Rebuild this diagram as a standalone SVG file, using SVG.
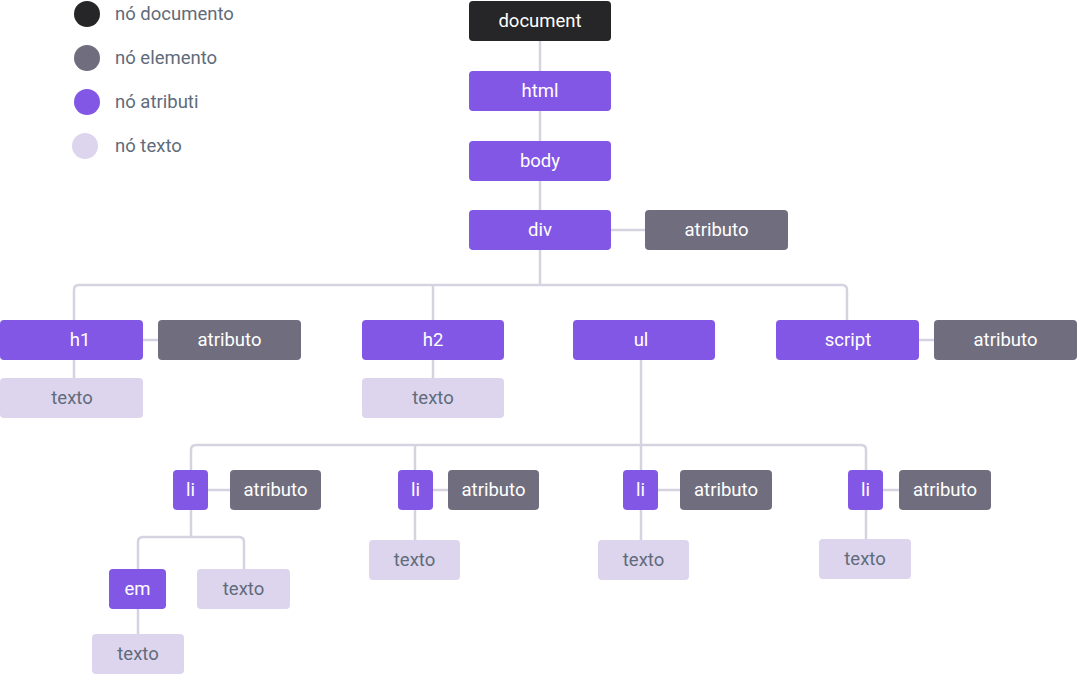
<svg xmlns="http://www.w3.org/2000/svg" width="1079" height="675" viewBox="0 0 1079 675">
  <style>
    text { font-family: Roboto, "Liberation Sans", sans-serif; font-size: 18.5px; dominant-baseline: central; }
    .lbl { text-anchor: middle; fill: #ffffff; }
    .tlbl { text-anchor: middle; fill: #5f6b7a; }
    .leg { fill: #5f6b7a; }
    .doc { fill: #262629; }
    .el { fill: #8257e5; }
    .attr { fill: #706e7e; }
    .txt { fill: #ddd5ee; }
    .conn path { fill: none; stroke: #d6d3e0; stroke-width: 2.5; }
  </style>

  <!-- legend -->
  <g id="legend">
    <circle cx="87" cy="14" r="13" class="doc"/>
    <text x="115" y="14" class="leg">nó documento</text>
    <circle cx="87" cy="58" r="13" class="attr"/>
    <text x="115" y="58" class="leg">nó elemento</text>
    <circle cx="87" cy="102" r="13" class="el"/>
    <text x="115" y="102" class="leg">nó atributi</text>
    <circle cx="85" cy="146" r="13" class="txt"/>
    <text x="115" y="146" class="leg">nó texto</text>
  </g>

  <!-- connectors -->
  <g id="connectors" class="conn">
    <path d="M540 41 V285"/>
    <path d="M611 230 H645"/>
    <path d="M74 340 V290 Q74 285 79 285 H842 Q847 285 847 290 V320"/>
    <path d="M433 285 V378"/>
    <path d="M74 360 V378"/>
    <path d="M143 340 H158"/>
    <path d="M919 340 H934"/>
    <path d="M641 360 V445"/>
    <path d="M191 470 V450 Q191 445 196 445 H861 Q866 445 866 450 V539"/>
    <path d="M415 445 V540"/>
    <path d="M641 445 V540"/>
    <path d="M208 490 H230"/>
    <path d="M433 490 H448"/>
    <path d="M658 490 H680"/>
    <path d="M883 490 H899"/>
    <path d="M191 510 V537"/>
    <path d="M138 569 V542 Q138 537 143 537 H239 Q244 537 244 542 V569"/>
    <path d="M138 609 V634"/>
  </g>

  <g id="n-document"><rect x="469" y="1" width="142" height="40" rx="4" class="doc"/><text x="540" y="21" class="lbl">document</text></g>
  <g id="n-html"><rect x="469" y="71" width="142" height="40" rx="4" class="el"/><text x="540" y="91" class="lbl">html</text></g>
  <g id="n-body"><rect x="469" y="141" width="142" height="40" rx="4" class="el"/><text x="540" y="161" class="lbl">body</text></g>
  <g id="n-div"><rect x="469" y="210" width="142" height="40" rx="4" class="el"/><text x="540" y="230" class="lbl">div</text></g>
  <g id="n-div-attr"><rect x="645" y="210" width="143" height="40" rx="4" class="attr"/><text x="716.5" y="230" class="lbl">atributo</text></g>

  <g id="n-h1"><rect x="0" y="320" width="143" height="40" rx="4" class="el"/><text x="80" y="340" class="lbl">h1</text></g>
  <g id="n-h1-attr"><rect x="158" y="320" width="143" height="40" rx="4" class="attr"/><text x="229.5" y="340" class="lbl">atributo</text></g>
  <g id="n-h1-text"><rect x="0" y="378" width="143" height="40" rx="4" class="txt"/><text x="72" y="398" class="tlbl">texto</text></g>

  <g id="n-h2"><rect x="362" y="320" width="142" height="40" rx="4" class="el"/><text x="433" y="340" class="lbl">h2</text></g>
  <g id="n-h2-text"><rect x="362" y="378" width="142" height="40" rx="4" class="txt"/><text x="433" y="398" class="tlbl">texto</text></g>

  <g id="n-ul"><rect x="573" y="320" width="142" height="40" rx="4" class="el"/><text x="641" y="340" class="lbl">ul</text></g>

  <g id="n-script"><rect x="776" y="320" width="143" height="40" rx="4" class="el"/><text x="848" y="340" class="lbl">script</text></g>
  <g id="n-script-attr"><rect x="934" y="320" width="143" height="40" rx="4" class="attr"/><text x="1005.5" y="340" class="lbl">atributo</text></g>

  <g id="n-li1"><rect x="173" y="470" width="35" height="40" rx="4" class="el"/><text x="190.5" y="490" class="lbl">li</text></g>
  <g id="n-li1-attr"><rect x="230" y="470" width="91" height="40" rx="4" class="attr"/><text x="275.5" y="490" class="lbl">atributo</text></g>
  <g id="n-em"><rect x="109" y="569" width="57" height="40" rx="4" class="el"/><text x="137.5" y="589" class="lbl">em</text></g>
  <g id="n-li1-text"><rect x="197" y="569" width="93" height="40" rx="4" class="txt"/><text x="243.5" y="589" class="tlbl">texto</text></g>
  <g id="n-em-text"><rect x="92" y="634" width="92" height="40" rx="4" class="txt"/><text x="138" y="654" class="tlbl">texto</text></g>

  <g id="n-li2"><rect x="398" y="470" width="35" height="40" rx="4" class="el"/><text x="415.5" y="490" class="lbl">li</text></g>
  <g id="n-li2-attr"><rect x="448" y="470" width="91" height="40" rx="4" class="attr"/><text x="493.5" y="490" class="lbl">atributo</text></g>
  <g id="n-li2-text"><rect x="369" y="540" width="91" height="40" rx="4" class="txt"/><text x="414.5" y="560" class="tlbl">texto</text></g>

  <g id="n-li3"><rect x="623" y="470" width="35" height="40" rx="4" class="el"/><text x="640.5" y="490" class="lbl">li</text></g>
  <g id="n-li3-attr"><rect x="680" y="470" width="92" height="40" rx="4" class="attr"/><text x="726" y="490" class="lbl">atributo</text></g>
  <g id="n-li3-text"><rect x="598" y="540" width="91" height="40" rx="4" class="txt"/><text x="643.5" y="560" class="tlbl">texto</text></g>

  <g id="n-li4"><rect x="848" y="470" width="35" height="40" rx="4" class="el"/><text x="865.5" y="490" class="lbl">li</text></g>
  <g id="n-li4-attr"><rect x="899" y="470" width="92" height="40" rx="4" class="attr"/><text x="945" y="490" class="lbl">atributo</text></g>
  <g id="n-li4-text"><rect x="819" y="539" width="92" height="40" rx="4" class="txt"/><text x="865" y="559" class="tlbl">texto</text></g>
</svg>
